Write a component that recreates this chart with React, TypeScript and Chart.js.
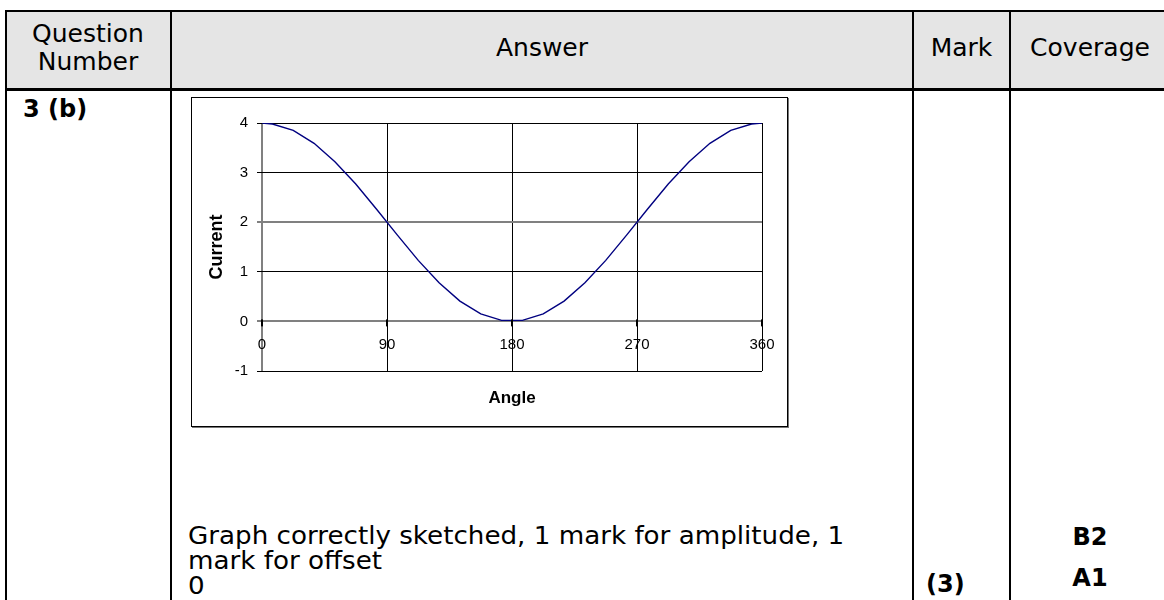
import React, { useEffect, useRef } from "react";
import { Chart, registerables } from "chart.js";

Chart.register(...registerables);

// Sampled current against angle (degrees)
const ANGLES = [
  0, 7.5, 22.5, 37.5, 52.5, 67.5, 82.5, 97.5, 112.5, 127.5, 142.5, 157.5, 172.5,
  187.5, 202.5, 217.5, 232.5, 247.5, 262.5, 277.5, 292.5, 307.5, 322.5, 337.5, 352.5, 360,
];
const CURRENT = [
  4.0, 3.98, 3.85, 3.59, 3.22, 2.77, 2.26, 1.74, 1.23, 0.78, 0.41, 0.15, 0.02,
  0.02, 0.15, 0.41, 0.78, 1.23, 1.74, 2.26, 2.77, 3.22, 3.59, 3.85, 3.98, 4.0,
];
const ANGLE_TICKS = [0, 90, 180, 270, 360];
const CURRENT_TICKS = [-1, 0, 1, 2, 3, 4];

const X_TITLE = "Angle";
const Y_TITLE = "Current";

const CHART_FONT = '"Liberation Sans", Arial, sans-serif';
const PAGE_FONT = '"DejaVu Sans", Verdana, sans-serif';

// Draws the angle labels beside the zero line, where the axes cross
const crossingLabels = {
  id: "crossingLabels",
  afterDraw(chart: any) {
    const { ctx } = chart;
    const xs = chart.scales.x;
    const ys = chart.scales.y;
    const y0 = ys.getPixelForValue(0);
    ctx.save();
    ctx.fillStyle = "#000";
    ctx.font = `15px ${CHART_FONT}`;
    ctx.textAlign = "center";
    ctx.textBaseline = "middle";
    xs.ticks.forEach((t: any) => {
      const px = Math.round(xs.getPixelForValue(t.value));
      ctx.fillRect(px - 1, y0 - 2, 2, 7);
      ctx.fillText(String(t.value), px, y0 + 23);
    });
    ctx.restore();
  },
};

const gridColor = (c: any) =>
  c.tick && (c.tick.value === 0 || c.tick.value === 2) ? "#808080" : "#000";
const gridWidth = (c: any) =>
  c.tick && (c.tick.value === 0 || c.tick.value === 2) ? 2 : 1;

function CurrentChart() {
  const ref = useRef<HTMLCanvasElement | null>(null);
  useEffect(() => {
    if (!ref.current) return;
    const chart = new Chart(ref.current, {
      type: "scatter",
      data: {
        datasets: [
          {
            data: ANGLES.map((a, i) => ({ x: a, y: CURRENT[i] })),
            showLine: true,
            borderColor: "#000080",
            borderWidth: 1.4,
            pointRadius: 0,
            tension: 0,
          },
        ],
      },
      plugins: [crossingLabels],
      options: {
        animation: false,
        responsive: false,
        devicePixelRatio: 1,
        layout: { padding: { left: 0, top: 25, right: 25, bottom: 0 } },
        plugins: { legend: { display: false }, tooltip: { enabled: false } },
        scales: {
          x: {
            type: "linear",
            min: 0,
            max: 360,
            afterBuildTicks: (s: any) => {
              s.ticks = ANGLE_TICKS.map((v) => ({ value: v }));
            },
            afterFit: (s: any) => {
              s.height = 55;
            },
            ticks: { display: false },
            border: { display: false },
            grid: { color: gridColor, lineWidth: gridWidth, drawTicks: false },
            title: {
              display: true,
              text: X_TITLE,
              color: "#000",
              font: { family: CHART_FONT, size: 17, weight: "bold" },
              padding: { top: 0, bottom: 17.8 },
            },
          },
          y: {
            type: "linear",
            min: -1,
            max: 4,
            afterBuildTicks: (s: any) => {
              s.ticks = CURRENT_TICKS.map((v) => ({ value: v }));
            },
            afterFit: (s: any) => {
              s.width = 70;
            },
            ticks: {
              color: "#000",
              padding: 9,
              font: { family: CHART_FONT, size: 15 },
            },
            border: { display: false },
            grid: { color: gridColor, lineWidth: gridWidth, tickLength: 5 },
            title: {
              display: true,
              text: Y_TITLE,
              color: "#000",
              font: { family: CHART_FONT, size: 18, weight: "bold" },
              padding: { top: 14.2, bottom: 0 },
            },
          },
        },
      },
    });
    return () => chart.destroy();
  }, []);
  return <canvas ref={ref} width={595} height={328} style={{ display: "block" }} />;
}

const abs = (left: number, top: number, extra: React.CSSProperties = {}): React.CSSProperties => ({
  position: "absolute",
  left,
  top,
  whiteSpace: "nowrap",
  ...extra,
});

export default function App() {
  const line = (l: number, t: number, w: number, h: number) => (
    <div style={{ position: "absolute", left: l, top: t, width: w, height: h, background: "#000" }} />
  );
  const head: React.CSSProperties = { fontFamily: PAGE_FONT, fontSize: 25, lineHeight: "28px", color: "#000" };
  // the answer text is set slightly wide, as in the printed scheme
  const body: React.CSSProperties = {
    fontFamily: PAGE_FONT,
    fontSize: 24,
    lineHeight: "25px",
    color: "#000",
    transform: "scaleX(1.09)",
    transformOrigin: "left top",
  };
  const bold: React.CSSProperties = {
    fontFamily: PAGE_FONT,
    fontSize: 24,
    lineHeight: "28px",
    fontWeight: "bold",
    color: "#000",
  };
  return (
    <div
      style={{
        position: "fixed",
        left: 0,
        top: 0,
        width: 1164,
        height: 600,
        overflow: "hidden",
        background: "#fff",
      }}
    >
      {/* header band */}
      <div style={{ position: "absolute", left: 6, top: 12, width: 1170, height: 77, background: "#e5e5e5" }} />
      {line(5, 10, 1170, 2)}
      {line(5, 88, 1170, 3)}
      {line(5, 10, 2, 600)}
      {line(170, 10, 2, 600)}
      {line(912, 10, 2, 600)}
      {line(1009, 10, 2, 600)}

      {/* header texts */}
      <div style={{ ...abs(6, 20), width: 164, textAlign: "center", ...head }}>
        Question
        <br />
        Number
      </div>
      <div style={{ ...abs(172, 34), width: 740, textAlign: "center", ...head }}>Answer</div>
      <div style={{ ...abs(914, 34), width: 95, textAlign: "center", ...head }}>Mark</div>
      <div style={{ ...abs(1011, 34), width: 158, textAlign: "center", ...head }}>Coverage</div>

      {/* body */}
      <div style={{ ...abs(23, 95), ...bold }}>3 (b)</div>

      <div
        style={{
          position: "absolute",
          left: 191,
          top: 97,
          width: 597,
          height: 330,
          boxSizing: "border-box",
          border: "1px solid #000",
          boxShadow: "1px 1px 0 #777",
          background: "#fff",
        }}
      >
        <CurrentChart />
      </div>

      <div style={{ ...abs(188, 524), ...body }}>
        Graph correctly sketched, 1 mark for amplitude, 1
        <br />
        mark for offset
      </div>
      <div style={{ ...abs(188, 572), ...body, lineHeight: "28px" }}>0</div>

      <div style={{ ...abs(926, 570), ...bold }}>(3)</div>
      <div style={{ ...abs(1011, 523), width: 158, textAlign: "center", ...bold }}>B2</div>
      <div style={{ ...abs(1011, 564), width: 158, textAlign: "center", ...bold }}>A1</div>
    </div>
  );
}
